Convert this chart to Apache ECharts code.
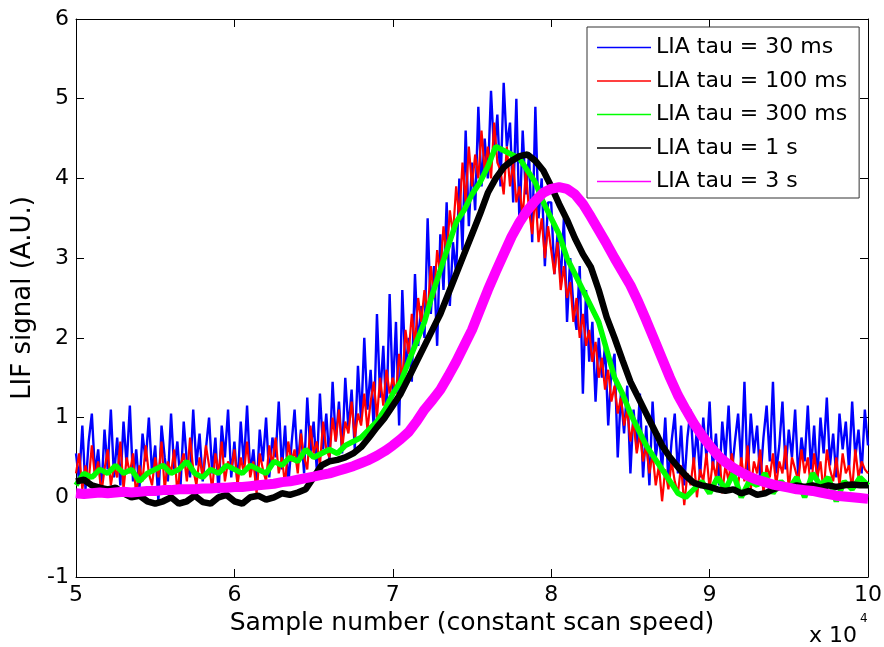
<!DOCTYPE html>
<html><head><meta charset="utf-8">
<script src="https://cdn.jsdelivr.net/npm/echarts@6/dist/echarts.min.js"></script>
<style>html,body{margin:0;padding:0;background:#fff}#c{width:884px;height:647px}</style>
</head><body><div id="c"></div><script>
// Sample positions (units of 1e4 samples)
const X0 = 5;
const FINE_STEP = 0.02;   // spacing for blue/red series
const COARSE_STEP = 0.05; // spacing for green/black/magenta series

const seriesNames = ['LIA tau = 30 ms','LIA tau = 100 ms','LIA tau = 300 ms','LIA tau = 1 s','LIA tau = 3 s'];
const xTicks = [5,6,7,8,9,10];
const yTicks = [-1,0,1,2,3,4,5,6];

// LIA tau = 30 ms (blue), 5.00..10.00 step 0.02
const blueY = [
0.55,0.2,0.9,0.1,0.7,1.05,0.3,0.6,0.05,0.85,
0.35,1.1,0.25,0.75,0.15,0.95,0.4,1.15,0.2,0.6,
0.1,0.8,0.45,1.0,0.3,0.65,-0.05,0.9,0.5,0.2,
1.05,0.35,0.7,0.15,0.95,0.45,0.25,1.1,0.4,0.8,
0.2,0.6,1.0,0.3,0.75,0.05,0.9,0.5,1.1,0.25,
0.7,0.15,0.95,0.4,1.15,0.3,0.6,0.1,0.85,0.45,
1.0,0.25,0.75,0.5,1.2,0.35,0.9,0.15,0.65,1.1,
0.4,0.85,0.3,1.25,0.55,0.95,0.35,1.3,0.6,1.05,
0.45,1.45,0.7,1.2,0.55,1.5,0.85,1.35,0.6,1.65,
0.95,2.0,1.1,1.6,0.85,2.3,1.25,1.9,1.0,2.55,
1.3,2.2,0.9,2.6,1.6,2.0,1.45,2.8,1.9,2.4,
2.0,3.5,2.3,2.9,1.9,3.3,2.6,3.7,2.4,3.2,
2.8,4.0,3.1,4.6,3.4,4.2,3.6,4.9,3.9,4.5,
4.0,5.1,4.3,4.8,3.9,5.2,4.4,4.7,3.7,5.0,
3.4,4.6,3.8,4.3,3.2,4.9,3.5,4.0,2.9,3.7,
3.7,2.8,3.3,2.7,3.5,2.2,3.0,2.4,2.1,2.9,
1.3,2.6,1.7,2.2,1.2,2.0,1.5,1.9,0.9,1.6,
1.8,0.5,1.3,0.8,1.4,0.3,1.1,0.6,1.3,0.25,
0.9,0.15,1.2,0.5,0.8,0.35,1.0,0.2,0.7,1.05,
0.3,0.9,0.15,0.75,1.1,0.4,0.85,0.25,1.0,0.5,
1.2,0.35,0.8,0.15,0.95,0.5,1.15,0.3,0.7,1.05,
0.4,1.45,0.25,1.05,0.55,0.9,0.2,0.75,1.15,0.45,
1.45,0.3,0.65,1.2,0.35,0.85,0.5,1.1,0.25,0.75,
0.45,1.15,0.35,0.9,0.2,1.0,0.55,1.25,0.4,0.8,
0.25,1.05,0.6,0.95,0.35,1.2,0.5,0.85,0.3,1.1,
0.65];

// LIA tau = 100 ms (red), 5.00..10.00 step 0.02
const redY = [
0.3,0.55,0.1,0.4,0.2,0.65,0.25,0.45,0.05,0.35,
0.6,0.15,0.4,0.25,0.7,0.1,0.5,0.3,0.55,0.0,
0.4,0.2,0.65,0.3,0.15,0.5,0.25,0.7,0.1,0.45,
0.3,0.6,0.05,0.4,0.55,0.2,0.75,0.35,0.15,0.5,
0.25,0.65,0.4,0.1,0.55,0.3,0.7,0.2,0.45,0.35,
0.6,0.15,0.5,0.3,0.7,0.25,0.45,0.05,0.55,0.35,
0.2,0.65,0.4,0.75,0.3,0.5,0.15,0.7,0.45,0.6,
0.3,0.8,0.5,0.35,0.9,0.55,0.7,0.4,0.95,0.6,
0.5,1.0,0.7,1.1,0.6,0.95,0.8,1.2,0.75,1.05,
0.9,1.3,0.85,1.2,1.45,1.0,1.5,1.15,1.6,1.3,
1.5,1.3,1.8,1.45,2.1,1.8,2.3,1.9,2.5,2.2,
2.6,2.3,2.9,2.5,3.1,2.8,3.4,3.0,3.6,3.3,
3.9,3.5,4.2,3.7,4.4,3.9,4.3,4.0,4.6,4.1,
4.4,4.0,4.7,4.2,4.1,3.8,4.4,3.9,4.2,3.7,
3.9,3.5,4.1,3.6,3.3,3.8,3.2,3.5,3.0,3.4,
3.1,2.8,3.2,2.6,2.9,2.5,2.7,2.2,2.5,2.0,
2.3,1.9,2.1,1.7,1.95,1.5,1.75,1.35,1.6,1.2,
1.4,1.05,1.25,0.9,1.1,0.7,0.95,0.55,0.8,0.45,
0.65,0.3,0.55,0.15,0.4,-0.05,0.35,0.1,0.45,0.2,
0.05,0.4,-0.1,0.3,0.15,0.5,0.0,0.35,0.2,0.55,
0.1,0.45,0.25,0.6,0.05,0.4,0.2,0.55,0.3,0.15,
0.5,0.2,0.65,0.1,0.45,0.3,0.6,0.05,0.4,0.25,
0.55,0.15,0.45,0.3,0.65,0.1,0.5,0.35,0.2,0.6,
0.3,0.5,0.1,0.55,0.25,0.45,0.05,0.6,0.35,0.2,
0.5,0.15,0.55,0.3,0.4,0.1,0.6,0.25,0.45,0.35,
0.3];

// LIA tau = 300 ms (green), 5.00..10.00 step 0.05
const greenY = [
0.15,0.3,0.25,0.35,0.3,0.4,0.3,0.35,0.2,0.3,
0.35,0.4,0.3,0.35,0.45,0.3,0.25,0.35,0.3,0.4,
0.35,0.3,0.4,0.35,0.3,0.45,0.4,0.5,0.45,0.6,
0.5,0.55,0.6,0.55,0.65,0.7,0.75,0.85,0.95,1.1,
1.3,1.45,1.7,1.95,2.2,2.55,2.85,3.15,3.45,3.6,
3.8,3.95,4.15,4.4,4.35,4.3,4.25,4.1,3.95,3.7,
3.5,3.3,3.0,2.8,2.6,2.4,2.2,1.85,1.5,1.3,
1.05,0.85,0.65,0.5,0.35,0.2,0.05,0.0,0.1,0.2,
0.05,0.25,0.1,0.3,0.0,0.2,0.15,0.3,0.05,0.2,
0.1,0.25,0.0,0.3,0.15,0.25,-0.05,0.2,0.1,0.25,
0.15];

// LIA tau = 1 s (black), 5.00..10.00 step 0.05
const blackY = [
0.2,0.22,0.15,0.12,0.1,0.12,0.05,0.0,0.02,-0.05,
-0.08,-0.05,0.0,-0.08,-0.05,0.02,-0.06,-0.08,0.0,0.03,
-0.05,-0.08,0.0,0.02,-0.03,0.0,0.05,0.03,0.06,0.1,
0.25,0.4,0.45,0.47,0.5,0.55,0.63,0.75,0.88,1.0,
1.15,1.3,1.5,1.7,1.9,2.1,2.3,2.55,2.8,3.05,
3.3,3.55,3.82,4.0,4.14,4.22,4.28,4.3,4.22,4.1,
3.9,3.68,3.48,3.25,3.05,2.89,2.6,2.26,2.0,1.72,
1.45,1.25,1.05,0.85,0.65,0.5,0.38,0.27,0.18,0.15,
0.13,0.1,0.08,0.1,0.05,0.08,0.03,0.05,0.1,0.13,
0.12,0.15,0.13,0.15,0.12,0.15,0.13,0.15,0.16,0.15,
0.15];

// LIA tau = 3 s (magenta), 5.00..10.00 step 0.05
const magentaY = [
0.05,0.04,0.05,0.06,0.05,0.06,0.07,0.06,0.07,0.08,
0.08,0.09,0.09,0.1,0.1,0.1,0.11,0.11,0.12,0.12,
0.13,0.13,0.14,0.15,0.16,0.17,0.19,0.2,0.22,0.24,
0.26,0.28,0.3,0.33,0.36,0.39,0.43,0.47,0.52,0.58,
0.65,0.73,0.82,0.95,1.1,1.22,1.35,1.52,1.7,1.9,
2.1,2.35,2.6,2.83,3.05,3.27,3.45,3.6,3.72,3.82,
3.87,3.89,3.87,3.8,3.68,3.52,3.35,3.18,3.0,2.83,
2.66,2.45,2.22,1.98,1.74,1.5,1.28,1.1,0.93,0.78,
0.65,0.53,0.44,0.37,0.31,0.26,0.22,0.19,0.16,0.14,
0.12,0.1,0.09,0.08,0.06,0.04,0.02,0.01,0.0,-0.01,
-0.02];

const seriesColors = ['#0000ff','#ff0000','#00ff00','#000000','#ff00ff'];
const seriesWidths = [2.4,2.2,5.5,6.5,10];

function toPairs(ys, step) {
  return ys.map((v, i) => [+(X0 + i * step).toFixed(3), v]);
}
const seriesData = [
  toPairs(blueY, FINE_STEP),
  toPairs(redY, FINE_STEP),
  toPairs(greenY, COARSE_STEP),
  toPairs(blackY, COARSE_STEP),
  toPairs(magentaY, COARSE_STEP)
];

const FONT = 'DejaVu Sans';
const chart = echarts.init(document.getElementById('c'), null, {renderer: 'canvas'});

const axisCommon = {
  type: 'value',
  axisLine: {show: true, onZero: false, lineStyle: {color: '#000', width: 1}},
  axisTick: {show: true, inside: true, length: 8, lineStyle: {color: '#000', width: 1}},
  splitLine: {show: false}
};

chart.setOption({
  animation: false,
  backgroundColor: '#fff',
  grid: {left: 76, right: 16, top: 19, bottom: 70, containLabel: false, outerBoundsMode: 'none'},
  xAxis: [
    Object.assign({}, axisCommon, {
      min: xTicks[0], max: xTicks[xTicks.length - 1], interval: 1, position: 'bottom',
      axisLabel: {color: '#000', fontSize: 22, fontFamily: FONT, margin: 7, showMinLabel: true, showMaxLabel: true},
      name: 'Sample number (constant scan speed)', nameLocation: 'middle', nameGap: 30,
      nameTextStyle: {color: '#000', fontSize: 25, fontFamily: FONT}
    }),
    Object.assign({}, axisCommon, {
      min: xTicks[0], max: xTicks[xTicks.length - 1], interval: 1, position: 'top',
      axisLabel: {show: false}
    })
  ],
  yAxis: [
    Object.assign({}, axisCommon, {
      min: yTicks[0], max: yTicks[yTicks.length - 1], interval: 1, position: 'left',
      axisLabel: {color: '#000', fontSize: 22, fontFamily: FONT, margin: 7, showMinLabel: true, showMaxLabel: true},
      name: 'LIF signal (A.U.)', nameLocation: 'middle', nameGap: 37, nameRotate: 90,
      nameTextStyle: {color: '#000', fontSize: 26, fontFamily: FONT}
    }),
    Object.assign({}, axisCommon, {
      min: yTicks[0], max: yTicks[yTicks.length - 1], interval: 1, position: 'right',
      axisLabel: {show: false}
    })
  ],
  legend: {
    orient: 'vertical', left: 587, top: 27,
    padding: [7, 12, 3, 10],
    itemWidth: 54, itemHeight: 1.5, itemGap: 6.5, icon: 'rect',
    backgroundColor: '#fff', borderColor: '#333', borderWidth: 1, borderRadius: 0,
    textStyle: {fontSize: 22, fontFamily: FONT, color: '#000', lineHeight: 27, width: 191},
    data: seriesNames
  },
  graphic: [
    {type: 'text', left: 809, top: 625, style: {text: 'x 10', font: '22px "DejaVu Sans"', fill: '#000'}},
    {type: 'text', left: 860, top: 613, style: {text: '4', font: '12px "DejaVu Sans"', fill: '#000'}}
  ],
  series: seriesNames.map((name, k) => ({
    name: name, type: 'line', xAxisIndex: 0, yAxisIndex: 0,
    data: seriesData[k], showSymbol: false, symbol: 'none',
    color: seriesColors[k],
    lineStyle: {color: seriesColors[k], width: seriesWidths[k]},
    emphasis: {disabled: true}, clip: true
  }))
});
</script></body></html>
